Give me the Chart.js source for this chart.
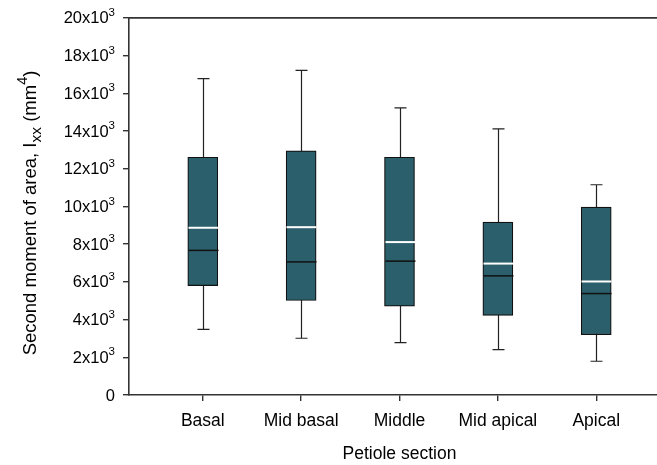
<!DOCTYPE html>
<html>
<head>
<meta charset="utf-8">
<script src="https://cdn.jsdelivr.net/npm/chart.js@4/dist/chart.umd.min.js"></script>
<style>
  html, body { margin: 0; padding: 0; background: #fff; overflow: hidden; }
  #wrap { width: 657px; height: 465px; overflow: hidden; }
</style>
</head>
<body>
<div id="wrap"><canvas id="chart" width="670" height="465"></canvas></div>
<script>
// petiole sections and box statistics (mm^4)
const sections = ["Basal", "Mid basal", "Middle", "Mid apical", "Apical"];
const whiskerLow = [3480, 3010, 2780, 2410, 1790];
const q1 = [5800, 5010, 4710, 4220, 3200];
const medians = [7670, 7060, 7100, 6320, 5380];
const means = [8870, 8900, 8110, 6970, 6020];
const q3 = [12610, 12950, 12610, 9170, 9970];
const whiskerHigh = [16780, 17220, 15230, 14110, 11150];
const yTicks = [0, 2000, 4000, 6000, 8000, 10000, 12000, 14000, 16000, 18000, 20000];

const axisColor = "#333";
const boxColor = "#2a5f6b";
const FONT = "Liberation Sans, Arial, sans-serif";

const boxExtras = {
  id: "boxExtras",
  beforeDatasetsDraw(chart) {
    const { ctx, scales: { x, y } } = chart;
    ctx.save();
    ctx.strokeStyle = "#222";
    ctx.lineWidth = 1.2;
    sections.forEach((s, i) => {
      const px = Math.round(x.getPixelForValue(i + 1)) + 0.5;
      const lo = y.getPixelForValue(whiskerLow[i]);
      const hi = y.getPixelForValue(whiskerHigh[i]);
      ctx.beginPath();
      ctx.moveTo(px, lo);
      ctx.lineTo(px, hi);
      ctx.moveTo(px - 6, lo);
      ctx.lineTo(px + 6, lo);
      ctx.moveTo(px - 6, hi);
      ctx.lineTo(px + 6, hi);
      ctx.stroke();
    });
    ctx.restore();
  },
  afterDatasetsDraw(chart) {
    const { ctx, scales: { x, y } } = chart;
    ctx.save();
    sections.forEach((s, i) => {
      const px = Math.round(x.getPixelForValue(i + 1)) + 0.5;
      const half = 15;
      ctx.strokeStyle = "#111";
      ctx.lineWidth = 1.5;
      let py = y.getPixelForValue(medians[i]);
      ctx.beginPath();
      ctx.moveTo(px - half, py);
      ctx.lineTo(px + half, py);
      ctx.stroke();
      ctx.strokeStyle = "#fff";
      ctx.lineWidth = 2;
      py = y.getPixelForValue(means[i]);
      ctx.beginPath();
      ctx.moveTo(px - half, py);
      ctx.lineTo(px + half, py);
      ctx.stroke();
    });
    // top frame line
    const a = chart.chartArea;
    ctx.strokeStyle = axisColor;
    ctx.lineWidth = 1.6;
    ctx.beginPath();
    ctx.moveTo(a.left, a.top);
    ctx.lineTo(a.right, a.top);
    ctx.stroke();

    // y tick labels with superscript exponent
    ctx.fillStyle = "#000";
    ctx.textBaseline = "middle";
    y.ticks.forEach(t => {
      const py = y.getPixelForValue(t.value);
      const right = a.left - 14;
      if (t.value === 0) {
        ctx.font = "16.5px " + FONT;
        ctx.textAlign = "right";
        ctx.fillText("0", right, py + 1);
        return;
      }
      ctx.font = "11.5px " + FONT;
      const supW = ctx.measureText("3").width;
      ctx.textAlign = "right";
      ctx.fillText("3", right, py - 5);
      ctx.font = "16.5px " + FONT;
      ctx.fillText((t.value / 1000) + "x10", right - supW, py + 1);
    });

    // y axis title with subscript and superscript
    ctx.save();
    ctx.translate(30, 213);
    ctx.rotate(-Math.PI / 2);
    ctx.textAlign = "left";
    ctx.textBaseline = "alphabetic";
    const parts = [
      { text: "Second moment of area, I", size: 18.5, dy: 0 },
      { text: "xx", size: 15.5, dy: 5 },
      { text: " (mm", size: 18.5, dy: 0 },
      { text: "4", size: 14.5, dy: -9 },
      { text: ")", size: 18.5, dy: 0 }
    ];
    let total = 0;
    parts.forEach(p => { ctx.font = p.size + "px " + FONT; p.w = ctx.measureText(p.text).width; total += p.w; });
    let cx = -total / 2;
    parts.forEach(p => {
      ctx.font = p.size + "px " + FONT;
      ctx.fillText(p.text, cx, 6 + p.dy);
      cx += p.w;
    });
    ctx.restore();
    ctx.restore();
  }
};

new Chart(document.getElementById("chart").getContext("2d"), {
  type: "bar",
  data: {
    datasets: [{
      data: sections.map((s, i) => ({ x: i + 1, y: [q1[i], q3[i]] })),
      backgroundColor: boxColor,
      borderColor: "#111",
      borderWidth: 1.2,
      borderSkipped: false,
      barThickness: 30
    }]
  },
  options: {
    responsive: false,
    animation: false,
    layout: { padding: { top: 16, right: 0, left: 0, bottom: 0 } },
    plugins: {
      legend: { display: false },
      tooltip: { enabled: false }
    },
    scales: {
      x: {
        type: "linear",
        min: 0.25,
        max: 5.75,
        offset: false,
        grid: { display: true, offset: false, drawOnChartArea: false, drawTicks: true, tickLength: 6, color: axisColor, lineWidth: 1.4 },
        border: { color: axisColor, width: 1.6 },
        afterBuildTicks: (scale) => { scale.ticks = sections.map((s, i) => ({ value: i + 1 })); },
        afterFit: (scale) => { scale.height = 70; },
        ticks: {
          color: "#000",
          font: { family: FONT, size: 17.5 },
          padding: 10,
          callback: (v) => sections[v - 1]
        },
        title: {
          display: true,
          text: "Petiole section",
          color: "#000",
          font: { family: FONT, size: 17.5 },
          padding: { top: 4, bottom: 0 }
        }
      },
      y: {
        min: 0,
        max: 20000,
        grid: { display: true, drawOnChartArea: false, tickLength: 6, color: axisColor, lineWidth: 1.4 },
        border: { color: axisColor, width: 1.6 },
        afterBuildTicks: (scale) => { scale.ticks = yTicks.map(v => ({ value: v })); },
        afterFit: (scale) => { scale.width = 129; },
        ticks: {
          color: "rgba(0,0,0,0)",
          font: { family: FONT, size: 16.5 },
          padding: 8
        },
        title: { display: false }
      }
    }
  },
  plugins: [boxExtras]
});
</script>
</body>
</html>
